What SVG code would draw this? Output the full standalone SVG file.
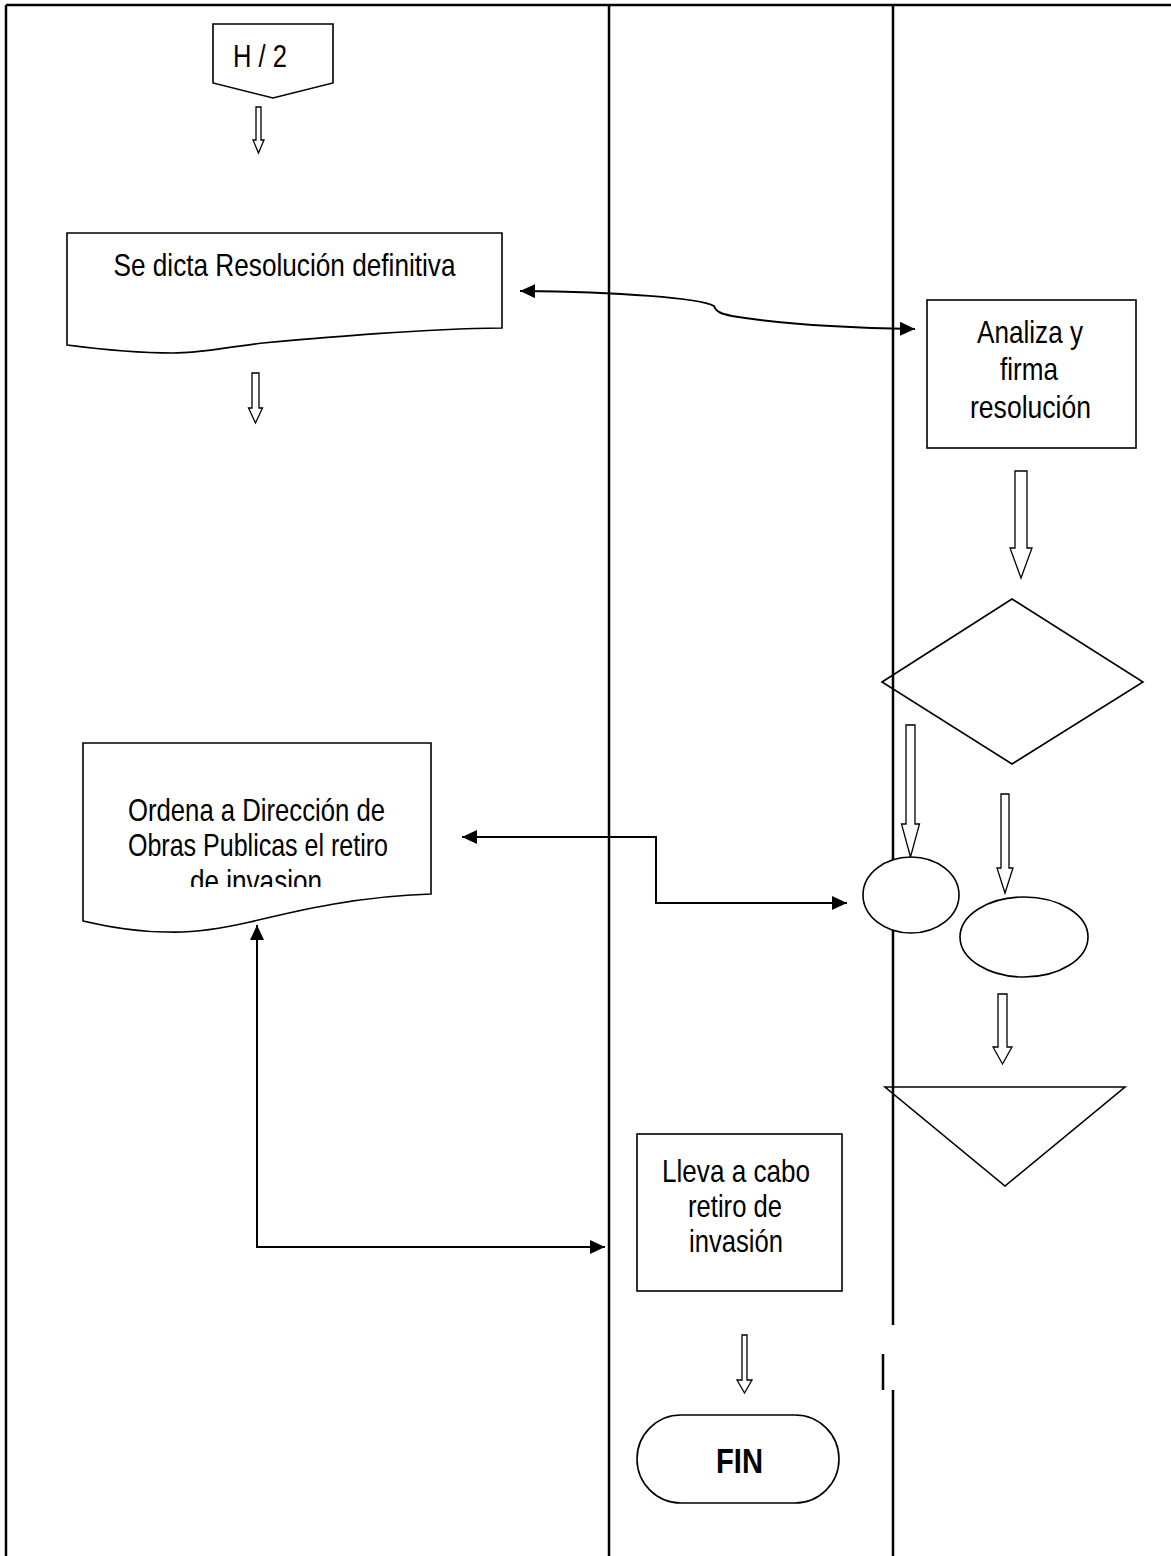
<svg xmlns="http://www.w3.org/2000/svg" width="1171" height="1556" viewBox="0 0 1171 1556">
<style>
.lane{stroke:#000;stroke-width:2.5;fill:none}
.shape{stroke:#000;stroke-width:1.6;fill:#fff}
.open{stroke:#000;stroke-width:1.6;fill:none}
.harrow{stroke:#000;stroke-width:1.3;fill:#fff}
.conn{stroke:#000;stroke-width:2;fill:none}
.t{font-family:"Liberation Sans Narrow","Liberation Sans",Arial,sans-serif;font-size:32px;fill:#000;text-anchor:middle}
.b{font-weight:bold;font-size:35px}
</style>
<defs>
<marker id="ah" markerUnits="userSpaceOnUse" markerWidth="16" markerHeight="14" refX="15" refY="7" orient="auto-start-reverse" viewBox="0 0 16 14">
<path d="M0,0 L15,7 L0,14 Z" fill="#000"/>
</marker>
<clipPath id="clip2"><rect x="83" y="743" width="348" height="144"/></clipPath>
</defs>
<rect x="0" y="0" width="1171" height="1556" fill="#fff"/>
<g id="lanes">
<path class="lane" d="M6,5 H1171 M6,5 V1556 M609,5 V1556 M893,5 V1325 M883,1354 V1390 M893,1390 V1556"/>
</g>
<g id="connectors">
<path class="conn" d="M520,291 C620,292 700,298 714,306 C716,312 722,314 732,316 C780,324 850,328 915,329" marker-start="url(#ah)" marker-end="url(#ah)"/>
<path class="conn" d="M462,837 H656 V903 H847" marker-start="url(#ah)" marker-end="url(#ah)"/>
<path class="conn" d="M257,925 V1247 H605" marker-start="url(#ah)" marker-end="url(#ah)"/>
<path class="harrow" d="M256,107 H261 V140 H264 L258.5,153 L253,140 H256 Z"/>
<path class="harrow" d="M252,373 H259 V408 H262.5 L255.5,423 L248.5,408 H252 Z"/>
<path class="harrow" d="M1015,471 H1027 V548 H1032 L1021,578 L1010,548 H1015 Z"/>
<path class="harrow" d="M906,725 H915 V824 H919.5 L910.5,857 L901.5,824 H906 Z"/>
<path class="harrow" d="M1001,794 H1009 V868 H1013 L1005,893 L997,868 H1001 Z"/>
<path class="harrow" d="M998,994 H1007 V1047 H1012 L1002.5,1064 L993,1047 H998 Z"/>
<path class="harrow" d="M742,1335 H747 V1380 H752 L744.5,1393 L737,1380 H742 Z"/>
</g>
<g id="n-h2">
<path class="shape" d="M213,24 H333 V83 L273,98 L213,83 Z"/>
<text class="t" x="260" y="67" textLength="54" lengthAdjust="spacingAndGlyphs">H / 2</text>
</g>
<g id="n-resolucion">
<path class="shape" d="M67,233 H502 V328 C420,329 330,337 263,343 C220,348 200,353 173,353 C130,353 90,348 67,345 Z"/>
<text class="t" x="284.5" y="276" textLength="342" lengthAdjust="spacingAndGlyphs">Se dicta Resolución definitiva</text>
</g>
<g id="n-analiza">
<rect class="shape" x="927" y="300" width="209" height="148"/>
<text class="t" x="1030" y="343" textLength="106" lengthAdjust="spacingAndGlyphs">Analiza y</text>
<text class="t" x="1029" y="380" textLength="58" lengthAdjust="spacingAndGlyphs">firma</text>
<text class="t" x="1030.5" y="418" textLength="121" lengthAdjust="spacingAndGlyphs">resolución</text>
</g>
<g id="n-decision">
<path class="open" d="M882,682 L1012,599 L1143,682 L1012,764 Z"/>
</g>
<g id="n-ordena">
<path class="shape" d="M83,743 H431 V894 C360,896 300,910 250,922 C215,930 190,933 167,932 C130,932 100,925 83,921 Z"/>
<g clip-path="url(#clip2)">
<text class="t" x="256.5" y="821" textLength="257" lengthAdjust="spacingAndGlyphs">Ordena a Dirección de</text>
<text class="t" x="258" y="856" textLength="260" lengthAdjust="spacingAndGlyphs">Obras Publicas el retiro</text>
<text class="t" x="256" y="892" textLength="132" lengthAdjust="spacingAndGlyphs">de invasion</text>
</g>
</g>
<g id="n-ellipse1">
<ellipse class="shape" cx="911" cy="895" rx="48" ry="38"/>
</g>
<g id="n-ellipse2">
<ellipse class="shape" cx="1024" cy="937" rx="64" ry="40"/>
</g>
<g id="n-triangle">
<path class="open" d="M885,1087 H1125 L1005,1186 Z"/>
</g>
<g id="n-lleva">
<rect class="shape" x="637" y="1134" width="205" height="157"/>
<text class="t" x="736" y="1182" textLength="148" lengthAdjust="spacingAndGlyphs">Lleva a cabo</text>
<text class="t" x="735" y="1217" textLength="94" lengthAdjust="spacingAndGlyphs">retiro de</text>
<text class="t" x="736" y="1252" textLength="94" lengthAdjust="spacingAndGlyphs">invasión</text>
</g>
<g id="n-fin">
<rect class="shape" x="637" y="1415" width="202" height="88" rx="44" ry="44"/>
<text class="t b" x="739.5" y="1473" textLength="47" lengthAdjust="spacingAndGlyphs">FIN</text>
</g>
</svg>
